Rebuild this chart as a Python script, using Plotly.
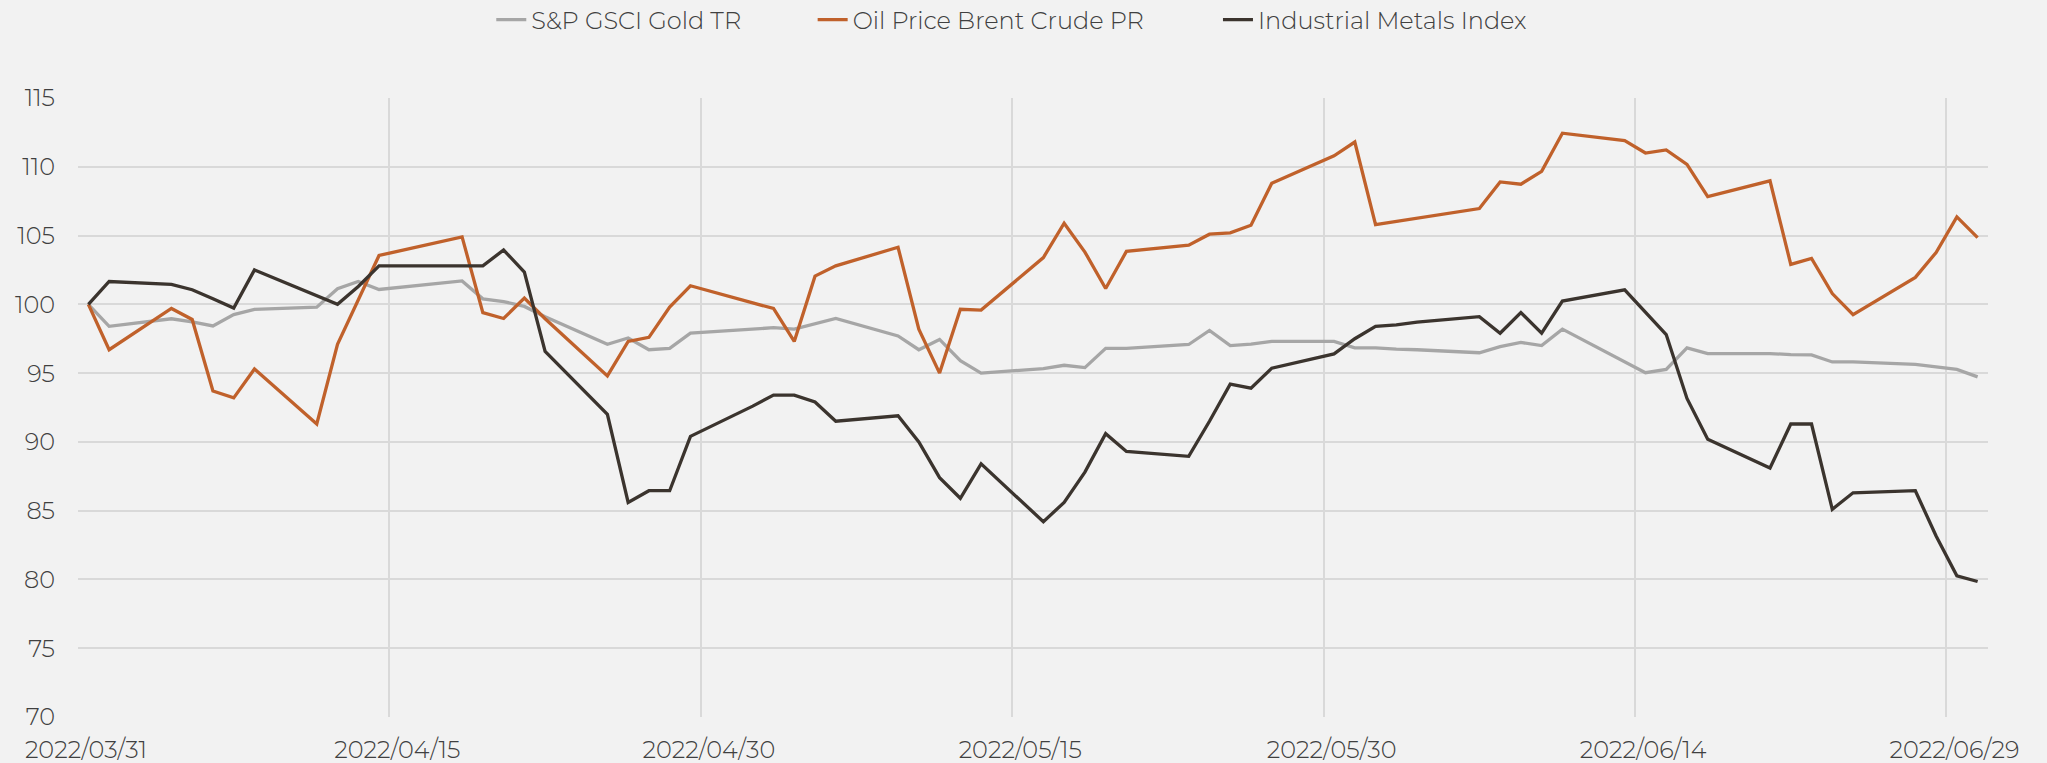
import plotly.graph_objects as go

dates = ["2022-03-31","2022-04-01","2022-04-04","2022-04-05","2022-04-06","2022-04-07","2022-04-08",
         "2022-04-11","2022-04-12","2022-04-13","2022-04-14","2022-04-18","2022-04-19","2022-04-20",
         "2022-04-21","2022-04-22","2022-04-25","2022-04-26","2022-04-27","2022-04-28","2022-04-29",
         "2022-05-02","2022-05-03","2022-05-04","2022-05-05","2022-05-06","2022-05-09","2022-05-10",
         "2022-05-11","2022-05-12","2022-05-13","2022-05-16","2022-05-17","2022-05-18","2022-05-19",
         "2022-05-20","2022-05-23","2022-05-24","2022-05-25","2022-05-26","2022-05-27","2022-05-30",
         "2022-05-31","2022-06-01","2022-06-02","2022-06-03","2022-06-06","2022-06-07","2022-06-08",
         "2022-06-09","2022-06-10","2022-06-13","2022-06-14","2022-06-15","2022-06-16","2022-06-17",
         "2022-06-20","2022-06-21","2022-06-22","2022-06-23","2022-06-24","2022-06-27","2022-06-28",
         "2022-06-29","2022-06-30"]

gold = [100, 98.4, 98.95, 98.73, 98.43, 99.25, 99.64, 99.79, 101.14, 101.66, 101.08, 101.7, 100.4,
        100.2, 99.85, 99.1, 97.1, 97.55, 96.7, 96.8, 97.9, 98.2, 98.3, 98.2, 98.6, 98.98, 97.7, 96.7,
        97.45, 95.9, 95.0, 95.33, 95.57, 95.4, 96.8, 96.8, 97.08, 98.1, 97.0, 97.1, 97.3, 97.3, 96.84,
        96.84, 96.75, 96.7, 96.48, 96.93, 97.23, 97.0, 98.2, 95.87, 95.03, 95.27, 96.84, 96.42, 96.42,
        96.35, 96.33, 95.81, 95.81, 95.63, 95.42, 95.27, 94.73]

brent = [100, 96.7, 99.7, 98.9, 93.7, 93.2, 95.3, 91.3, 97.1, 100.33, 103.55, 104.9, 99.4, 98.97,
         100.45, 98.95, 94.8, 97.3, 97.6, 99.8, 101.35, 100.1, 99.7, 97.3, 102.05, 102.8, 104.15,
         98.2, 95.0, 99.64, 99.58, 103.4, 105.9, 103.8, 101.15, 103.85, 104.3, 105.1, 105.2, 105.75,
         108.8, 110.8, 111.8, 105.8, 106.04, 106.27, 106.96, 108.9, 108.73, 109.67, 112.44, 111.9,
         111.0, 111.23, 110.18, 107.83, 108.98, 102.9, 103.34, 100.78, 99.25, 101.96, 103.77, 106.36,
         104.85]

metals = [100, 101.66, 101.45, 101.06, 100.4, 99.73, 102.5, 100.6, 100.0, 101.3, 102.8, 102.8, 102.8,
          103.95, 102.35, 96.57, 92.0, 85.6, 86.45, 86.45, 90.4, 92.6, 93.4, 93.4, 92.9, 91.5, 91.9,
          90.0, 87.4, 85.9, 88.4, 84.2, 85.6, 87.8, 90.6, 89.3, 88.95, 91.5, 94.2, 93.9, 95.36, 96.4,
          97.5, 98.4, 98.5, 98.7, 99.1, 97.9, 99.4, 97.9, 100.24, 101.05, 99.45, 97.8, 93.16, 90.2,
          88.1, 91.3, 91.3, 85.1, 86.3, 86.45, 83.16, 80.27, 79.85]

series_names = ["S&P GSCI Gold TR", "Oil Price Brent Crude PR", "Industrial Metals Index"]
series_values = [gold, brent, metals]
series_colors = ["#a6a6a6", "#c0612b", "#3b342e"]
legend_ids = ["legend", "legend2", "legend3"]
legend_x = [0.240, 0.397, 0.595]

DAY_MS = 86400000
FONT = "Montserrat, Lato, 'Open Sans', sans-serif"
TEXT_COLOR = "#404040"
BG = "#f2f2f2"
GRID = "#d9d9d9"
FONT_SPEC = dict(family=FONT, size=24, color=TEXT_COLOR, weight=300)

fig = go.Figure()
for name, vals, col, lg in zip(series_names, series_values, series_colors, legend_ids):
    fig.add_trace(go.Scatter(
        x=dates, y=vals, name=name, mode="lines",
        line=dict(color=col, width=3.3),
        xperiod=DAY_MS, xperiodalignment="middle",
        connectgaps=True, legend=lg,
    ))

legend_layout = {}
for lg, lx in zip(legend_ids, legend_x):
    legend_layout[lg] = dict(
        orientation="h", x=lx, xanchor="left",
        xref="container", yref="container", y=1 - 20 / 763, yanchor="middle",
        font=FONT_SPEC, bgcolor="rgba(0,0,0,0)",
    )

fig.update_layout(
    width=2047, height=763,
    paper_bgcolor=BG, plot_bgcolor=BG,
    margin=dict(l=78, r=59, t=98, b=46),
    font=FONT_SPEC,
    showlegend=True,
    xaxis=dict(
        type="date",
        range=["2022-03-31", "2022-07-01"],
        tick0="2022-03-31", dtick=15 * DAY_MS,
        tickformat="%Y/%m/%d",
        showgrid=True, gridcolor=GRID, gridwidth=1.5,
        zeroline=False, showline=False, automargin=False,
        ticks="", ticklabelstandoff=16, ticklabelshift=8,
        tickfont=FONT_SPEC,
    ),
    yaxis=dict(
        range=[70, 115], dtick=5, tick0=70,
        showgrid=True, gridcolor=GRID, gridwidth=1.5,
        zeroline=False, showline=False, automargin=False,
        ticks="", ticklabelstandoff=22,
        tickfont=FONT_SPEC,
    ),
    **legend_layout,
)

fig.write_html(
    "out.html",
    config={"displayModeBar": False},
    post_script="document.body.style.margin='0';document.body.style.background='#f2f2f2';",
)
